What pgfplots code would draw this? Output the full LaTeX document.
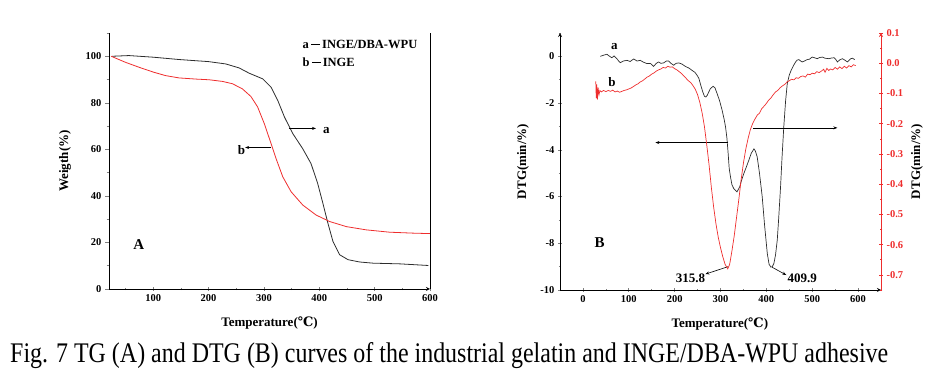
\documentclass[border=0pt]{standalone}
\usepackage{graphicx}
\usepackage{pgfplots}
\pgfplotsset{compat=1.18}
\usepackage{fontspec}
\setmainfont{Liberation Serif}
\newfontfamily\dejavu{DejaVu Serif}
\usetikzlibrary{arrows.meta}
\definecolor{cred}{RGB}{238,45,45}
\definecolor{cblk}{RGB}{45,45,45}
\newcommand{\degC}{{\dejavu\bfseries ℃}}
\newcommand{\labfont}{\fontsize{13}{15}\selectfont\bfseries}

\pgfplotsset{
  mystyle/.style={
    scale only axis, width=321pt, height=256pt,
    tick align=outside,
    major tick length=4pt, minor tick length=2.5pt,
    tick style={line width=0.6pt},
    axis line style={line width=0.8pt,-},
    tick label style={font=\fontsize{10.5}{12}\selectfont\bfseries},
    /pgf/number format/assume math mode=true,
  }
}

\begin{document}
\begin{tikzpicture}
\useasboundingbox (0,0) rectangle (932pt,374pt);

% ---------------- Panel A ----------------
\begin{axis}[mystyle,
  at={(109pt,85pt)}, anchor=south west,
  xmin=20, xmax=600, ymin=0, ymax=110,
  axis x line=bottom, axis y line=box, ytick pos=left,
  xtick={100,200,300,400,500,600},
  minor xtick={50,150,250,350,450,550},
  ytick={0,20,40,60,80,100},
  minor ytick={10,30,50,70,90,110},
  xlabel={Temperature(\degC)},
  ylabel={Weigth(\%)},
  every axis x label/.style={at={(axis description cs:0.5,-0.133)}, anchor=center, font=\labfont},
  every axis y label/.style={at={(axis description cs:-0.137,0.5)}, rotate=90, anchor=center, font=\labfont},
]
\addplot[cblk, line width=0.8pt] coordinates {
(25,100)(56,100.3)(100,99.6)(146.5,98.6)(200,97.7)(231,96.7)(255,95)(273.5,92.7)
(297.7,90.3)(312.8,86.7)(325,81)(337,73.9)(352,66.8)(370,60.3)(385,53.9)(397,45.4)
(406.5,36.8)(415.6,28.2)(424.7,20.4)(436.8,14.7)(451.9,12.6)(473,11.6)(497,11.1)
(545.6,10.8)(597,10.1)};
\addplot[cred, line width=0.8pt] coordinates {
(24,100)(49.8,97.4)(74,95.3)(100,93.2)(122,91.7)(146.5,90.7)(176.8,90.2)(201,89.9)
(225,89.2)(243,88.2)(261,86)(276.5,82.7)(288.6,78.2)(300.7,71)(312.8,62.5)(321.9,56)
(334,48.2)(349,41.8)(370,36.1)(394,31.8)(418.6,29)(448.9,26.8)(485,25.4)(527.4,24.4)
(569.8,24)(600,23.8)};
\draw[-{Stealth[length=4pt,width=3pt]}, line width=0.6pt] (axis cs:345,69) -- (axis cs:394,69);
\draw[-{Stealth[length=4pt,width=3pt]}, line width=0.6pt] (axis cs:313,60.8) -- (axis cs:266,60.8);
\node[font=\labfont] at (axis cs:412.6,68.2) {a};
\node[font=\labfont] at (axis cs:259.6,59.6) {b};
\node[font=\fontsize{15}{17}\selectfont\bfseries] at (axis cs:74,19) {A};
\node[anchor=west, inner sep=0, font=\fontsize{12.5}{14}\selectfont\bfseries] at (axis cs:369.7,105) {a\,\rule[3.6pt]{9pt}{0.8pt}\,INGE/DBA-WPU};
\node[anchor=west, inner sep=0, font=\fontsize{12.5}{14}\selectfont\bfseries] at (axis cs:369.7,97.3) {b\,\rule[3.6pt]{9pt}{0.8pt}\,INGE};
\end{axis}

% ---------------- Panel B (left axis) ----------------
\begin{axis}[mystyle,
  at={(560pt,84pt)}, anchor=south west, height=257pt,
  xmin=-50, xmax=650, ymin=-10, ymax=1,
  axis x line=bottom, axis y line=left,
  xtick={0,100,200,300,400,500,600},
  minor xtick={-50,50,150,250,350,450,550,650},
  ytick={0,-2,-4,-6,-8,-10},
  yticklabels={0,-2,-4,-6,-8,-10},
  minor ytick={1,-1,-3,-5,-7,-9},
  xlabel={Temperature(\degC)},
  ylabel={DTG(min/\%)},
  every axis x label/.style={at={(axis description cs:0.498,-0.133)}, anchor=center, font=\labfont},
  every axis y label/.style={at={(axis description cs:-0.115,0.5)}, rotate=90, anchor=center, font=\labfont},
]
\addplot[cblk, line width=0.7pt] coordinates {
(37.9,0)(45,0.05)(52.4,0.09)(57,0.02)(63,-0.06)(68,0.02)(74,-0.1)(78,-0.2)(81.6,-0.27)
(88,-0.2)(96,-0.17)(103,-0.22)(110.7,-0.11)(118,-0.2)(125,-0.17)(132,-0.25)(139.8,-0.31)
(147,-0.3)(154,-0.43)(160,-0.3)(165,-0.24)(170,-0.3)(176,-0.28)(182,-0.2)(187,-0.2)
(192,-0.3)(198,-0.38)(203,-0.3)(209,-0.28)(216,-0.33)(223.5,-0.43)(231,-0.5)(238,-0.6)
(244,-0.68)(249,-0.81)(253,-0.95)(256,-1.17)(261,-1.5)(265,-1.71)(268,-1.74)(271,-1.67)
(275,-1.5)(278,-1.38)(284,-1.28)(288,-1.35)(292.7,-1.6)(298,-1.9)(303.6,-2.31)(308,-2.7)
(311,-3.02)(314,-3.5)(316.7,-4.16)(319,-4.8)(321.8,-5.16)(325,-5.5)(329,-5.66)(336,-5.8)
(342,-5.58)(346,-5.3)(351,-5.01)(357,-4.7)(361.9,-4.44)(367,-4.15)(373,-3.96)(376,-4.05)
(380,-4.3)(385,-5.0)(391,-6.01)(396,-7.2)(402,-8.43)(406,-8.9)(409.9,-9.02)(413,-9.0)
(416.5,-8.86)(420,-8.5)(423.8,-7.86)(427,-6.9)(431,-5.58)(434,-4.4)(438,-3.02)(442,-1.9)
(445.6,-1.17)(450,-0.8)(454,-0.6)(459,-0.4)(463.8,-0.24)(467,-0.16)(471,-0.14)(475,-0.2)
(478,-0.24)(483,-0.2)(489,-0.14)(494,-0.12)(500,-0.03)(505,-0.06)(511,-0.1)(516,-0.05)
(522,-0.03)(528,-0.08)(536.7,-0.1)(542,-0.07)(547.6,-0.06)(551,-0.12)(555,-0.24)(560,-0.15)
(566,-0.1)(571,-0.16)(577,-0.24)(581,-0.16)(584,-0.1)(588,-0.08)(592.7,-0.14)};
\draw[-{Stealth[length=4pt,width=3pt]}, line width=0.6pt] (axis cs:316.8,-3.69) -- (axis cs:158,-3.69);
\draw[-{Stealth[length=4pt,width=3pt]}, line width=0.6pt] (axis cs:371.4,-3.06) -- (axis cs:554.9,-3.06);
\draw[-{Stealth[length=4pt,width=3pt]}, line width=0.6pt] (axis cs:316.8,-9.0) -- (axis cs:267,-9.32);
\draw[-{Stealth[length=4pt,width=3pt]}, line width=0.6pt] (axis cs:413,-9.03) -- (axis cs:443.5,-9.36);
\node[font=\labfont] at (axis cs:234.5,-9.5) {315.8};
\node[font=\labfont] at (axis cs:478,-9.5) {409.9};
\node[font=\labfont] at (axis cs:68.4,0.4) {a};
\node[font=\labfont] at (axis cs:63.4,-1.1) {b};
\node[font=\fontsize{15}{17}\selectfont\bfseries] at (axis cs:36.4,-7.98) {B};
\end{axis}

% ---------------- Panel B (right axis) ----------------
\begin{axis}[mystyle,
  at={(560pt,84pt)}, anchor=south west, height=257pt,
  xmin=-50, xmax=650, ymin=-0.75, ymax=0.1,
  axis x line=none, axis y line=right,
  y axis line style={cred},
  ytick style={cred},
  ytick={0.1,0,-0.1,-0.2,-0.3,-0.4,-0.5,-0.6,-0.7},
  yticklabels={0.1,0.0,-0.1,-0.2,-0.3,-0.4,-0.5,-0.6,-0.7},
  minor ytick={0.05,-0.05,-0.15,-0.25,-0.35,-0.45,-0.55,-0.65,-0.75},
  yticklabel style={text=cred},
  ylabel={DTG(min/\%)},
  every axis y label/.style={at={(axis description cs:1.112,0.5)}, rotate=90, anchor=center, font=\labfont},
]
\addplot[cred, line width=0.7pt] coordinates {
(28,-0.06)(29,-0.115)(30,-0.07)(31.5,-0.12)(33,-0.08)(35,-0.105)(37,-0.09)(40,-0.095)
(45,-0.09)(50,-0.094)(55,-0.09)(60,-0.093)(65,-0.089)(70,-0.095)(75,-0.092)(80,-0.096)
(85,-0.093)(90,-0.09)(95,-0.088)(100,-0.085)(105,-0.082)(110,-0.077)(115,-0.072)
(120,-0.068)(125,-0.062)(130,-0.058)(135,-0.052)(140,-0.046)(145,-0.042)(150,-0.036)
(155,-0.032)(160,-0.026)(165,-0.022)(170,-0.019)(175,-0.014)(180,-0.016)(185,-0.01)
(190,-0.013)(195,-0.012)(200,-0.018)(205,-0.022)(210,-0.028)(215,-0.034)(220,-0.042)
(225,-0.05)(230,-0.058)(235,-0.064)(240,-0.074)(245,-0.086)(250,-0.104)(255,-0.13)
(260,-0.165)(265,-0.21)(270,-0.27)(275,-0.335)(280,-0.41)(285,-0.475)(290,-0.53)
(295,-0.575)(300,-0.61)(305,-0.64)(310,-0.665)(315.8,-0.68)(320,-0.665)(325,-0.62)
(330,-0.57)(335,-0.51)(340,-0.45)(345,-0.385)(350,-0.33)(355,-0.285)(360,-0.25)
(365,-0.22)(370,-0.2)(375,-0.185)(380,-0.172)(385,-0.165)(390,-0.15)(395,-0.142)
(400,-0.133)(405,-0.122)(410,-0.115)(415,-0.104)(420,-0.095)(425,-0.09)(430,-0.081)
(435,-0.075)(440,-0.07)(445,-0.062)(450,-0.058)(455,-0.053)(460,-0.055)(465,-0.048)
(470,-0.05)(475,-0.044)(480,-0.042)(485,-0.046)(490,-0.036)(495,-0.038)(500,-0.033)
(505,-0.035)(510,-0.028)(515,-0.031)(520,-0.026)(525,-0.02)(528,-0.03)(532,-0.017)
(536,-0.024)(540,-0.019)(545,-0.022)(550,-0.014)(555,-0.02)(560,-0.012)(565,-0.018)
(570,-0.01)(575,-0.016)(580,-0.008)(585,-0.012)(590,-0.005)(595,-0.008)};
\end{axis}

% ---------------- Caption ----------------
\node[anchor=base west, inner sep=0] at (10pt,11pt)
  {\resizebox{878pt}{20pt}{Fig. 7 TG (A) and DTG (B) curves of the industrial gelatin and INGE/DBA-WPU adhesive}};
\end{tikzpicture}
\end{document}
